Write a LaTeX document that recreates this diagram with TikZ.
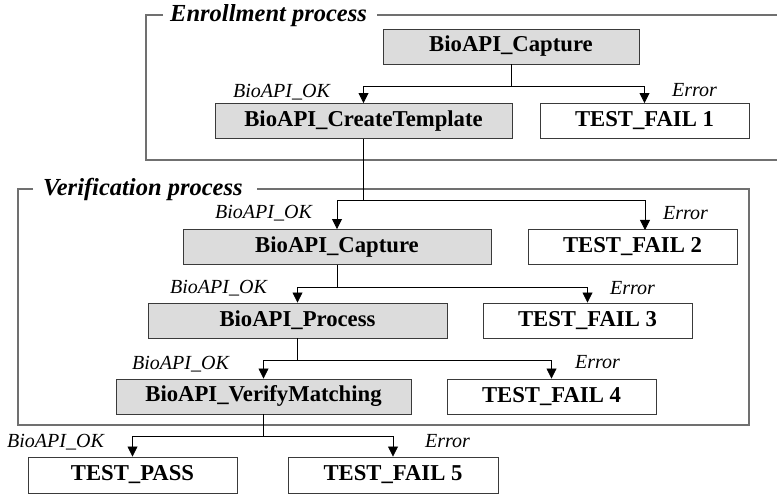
\documentclass[tikz,border=0pt]{standalone}
\usepackage{fontspec}
\setmainfont{Liberation Serif}
\usetikzlibrary{arrows.meta}

\definecolor{boxfill}{HTML}{DCDCDC}
\definecolor{boxline}{HTML}{3A3A3A}
\definecolor{frameline}{HTML}{707070}

\tikzset{
  apibox/.style={draw=boxline, fill=boxfill, line width=0.9pt, rectangle,
    inner sep=0pt, minimum height=35pt,
    font=\fontsize{22.7pt}{24pt}\selectfont\bfseries},
  resbox/.style={apibox, fill=white},
  cond/.style={inner sep=0pt, anchor=base west,
    font=\fontsize{20pt}{22pt}\selectfont\itshape},
  title/.style={inner sep=0pt, anchor=base west,
    font=\fontsize{24.5pt}{26pt}\selectfont\bfseries\itshape},
  frame/.style={draw=frameline, line width=1.2pt},
  link/.style={draw=black, line width=0.8pt},
  arr/.style={link, -{Triangle[length=10pt,width=10pt]}}
}

\begin{document}
\begin{tikzpicture}[x=1pt, y=-1pt]
  \useasboundingbox (0,0) rectangle (777,494);

  % group frames with their headings
  \node[title] (enroll) at (170,22) {Enrollment process};
  \draw[frame] (163,15) -- (146,15) -- (146,160) -- (777,160);
  \draw[frame] (377,15) -- (777,15);

  \node[title] (verify) at (43,196) {Verification process};
  \draw[frame] (33,189) -- (18,189) -- (18,425) -- (749,425)
               -- (749,189) -- (257,189);

  % enrollment calls
  \node[apibox, minimum width=256pt] (cap1) at (511,46.5) {BioAPI\_Capture};
  \node[apibox, minimum width=297pt] (ct)   at (363.5,121) {BioAPI\_CreateTemplate};
  \node[resbox, minimum width=209pt] (tf1)  at (644.5,121) {TEST\_FAIL 1};

  % verification calls
  \node[apibox, minimum width=308pt] (cap2) at (337,247) {BioAPI\_Capture};
  \node[resbox, minimum width=209pt] (tf2)  at (632.5,247) {TEST\_FAIL 2};
  \node[apibox, minimum width=299pt] (proc) at (297.5,320.5) {BioAPI\_Process};
  \node[resbox, minimum width=209pt] (tf3)  at (587.5,320.5) {TEST\_FAIL 3};
  \node[apibox, minimum width=295pt] (vm)   at (263.5,396.5) {BioAPI\_VerifyMatching};
  \node[resbox, minimum width=209pt] (tf4)  at (551.5,396.5) {TEST\_FAIL 4};

  % final outcomes
  \node[resbox, minimum width=209pt, minimum height=36pt] (pass) at (132.5,475) {TEST\_PASS};
  \node[resbox, minimum width=210pt, minimum height=36pt] (tf5)  at (393,475) {TEST\_FAIL 5};

  % branch points
  \coordinate (j1) at (511,86);
  \coordinate (j2) at (363.5,200);
  \coordinate (j3) at (337,287);
  \coordinate (j4) at (297.5,360);
  \coordinate (j5) at (263.5,436);
  \coordinate (tf2in) at (645,230);

  \draw[link] (cap1.south) -- (j1);
  \draw[arr] (j1) -| (ct.north);
  \draw[arr] (j1) -| (tf1.north);

  \draw[link] (ct.south) -- (j2);
  \draw[arr] (j2) -| (cap2.north);
  \draw[arr] (j2) -| (tf2in);

  \draw[link] (cap2.south) -- (j3);
  \draw[arr] (j3) -| (proc.north);
  \draw[arr] (j3) -| (tf3.north);

  \draw[link] (proc.south) -- (j4);
  \draw[arr] (j4) -| (vm.north);
  \draw[arr] (j4) -| (tf4.north);

  \draw[link] (vm.south) -- (j5);
  \draw[arr] (j5) -| (pass.north);
  \draw[arr] (j5) -| (tf5.north);

  % branch conditions
  \node[cond] (ok1) at (233,98)  {BioAPI\_OK};
  \node[cond] (er1) at (672,97)  {Error};
  \node[cond] (ok2) at (215,219) {BioAPI\_OK};
  \node[cond] (er2) at (663,220) {Error};
  \node[cond] (ok3) at (170,294) {BioAPI\_OK};
  \node[cond] (er3) at (610,295) {Error};
  \node[cond] (ok4) at (132,370) {BioAPI\_OK};
  \node[cond] (er4) at (575,369) {Error};
  \node[cond] (ok5) at (7,447)   {BioAPI\_OK};
  \node[cond] (er5) at (425,447) {Error};
\end{tikzpicture}
\end{document}
